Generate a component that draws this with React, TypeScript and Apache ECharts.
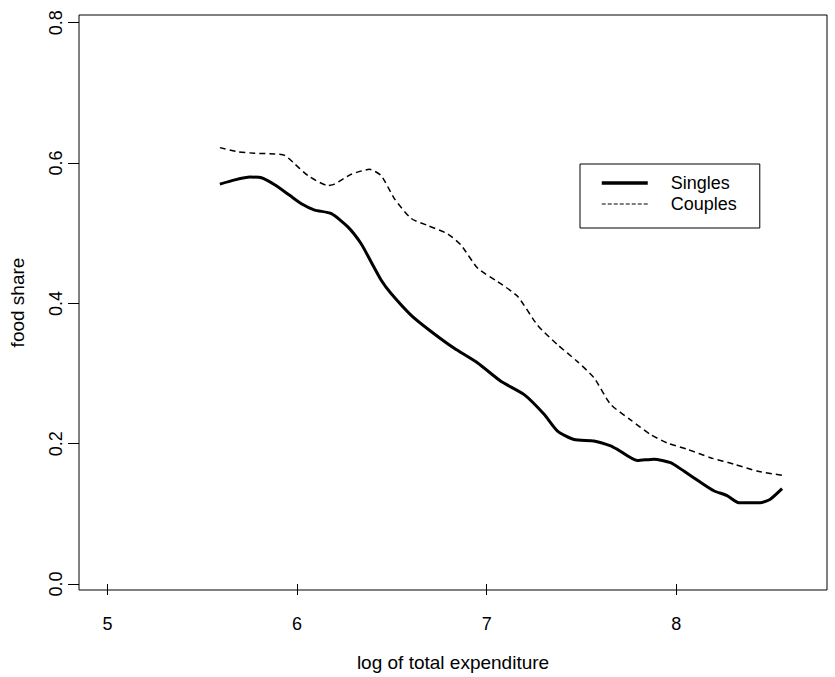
import React, { useEffect, useRef } from "react";
import * as echarts from "echarts";

const singlesX = [5.593, 5.672, 5.751, 5.812, 5.882, 5.961, 6.023, 6.093, 6.181, 6.268, 6.338, 6.391, 6.444, 6.496, 6.602, 6.707, 6.829, 6.953, 7.075, 7.198, 7.303, 7.374, 7.461, 7.566, 7.654, 7.689, 7.795, 7.882, 7.970, 8.040, 8.128, 8.198, 8.268, 8.329, 8.444, 8.496, 8.558];
const singlesY = [0.570, 0.576, 0.580, 0.579, 0.569, 0.554, 0.542, 0.533, 0.528, 0.509, 0.485, 0.459, 0.433, 0.414, 0.383, 0.360, 0.336, 0.315, 0.289, 0.270, 0.242, 0.218, 0.206, 0.204, 0.197, 0.192, 0.176, 0.178, 0.173, 0.161, 0.145, 0.133, 0.126, 0.116, 0.116, 0.121, 0.136];

const couplesX = [5.593, 5.689, 5.777, 5.882, 5.935, 5.987, 6.058, 6.163, 6.198, 6.286, 6.382, 6.444, 6.514, 6.602, 6.689, 6.795, 6.865, 6.953, 7.058, 7.163, 7.268, 7.374, 7.479, 7.566, 7.654, 7.759, 7.865, 7.953, 8.058, 8.181, 8.303, 8.426, 8.558];
const couplesY = [0.622, 0.616, 0.614, 0.613, 0.611, 0.599, 0.582, 0.568, 0.570, 0.584, 0.591, 0.582, 0.549, 0.521, 0.511, 0.499, 0.483, 0.450, 0.431, 0.410, 0.369, 0.341, 0.317, 0.294, 0.256, 0.234, 0.213, 0.201, 0.192, 0.180, 0.171, 0.161, 0.155];

const xTicks = [5, 6, 7, 8];
const yTicks = [0, 0.2, 0.4, 0.6, 0.8];
const seriesNames = ["Singles", "Couples"];
const xTitle = "log of total expenditure";
const yTitle = "food share";

const FONT = "'Liberation Sans', Arial, Helvetica, sans-serif";

export default function App() {
  const ref = useRef<HTMLDivElement>(null);
  useEffect(() => {
    if (!ref.current) return;
    const chart = echarts.init(ref.current, null, { renderer: "svg" });
    const zip = (xs: number[], ys: number[]) => xs.map((x, i) => [x, ys[i]]);
    chart.setOption({
      animation: false,
      backgroundColor: "#ffffff",
      textStyle: { fontFamily: FONT },
      grid: {
        left: 77,
        right: 8,
        top: 15,
        bottom: 84,
        show: true,
        borderColor: "#000",
        borderWidth: 1,
        containLabel: false,
      },
      xAxis: {
        type: "value",
        min: 4.85,
        max: 8.795,
        axisLine: { show: false },
        splitLine: { show: false },
        axisTick: { show: true, length: 11, customValues: xTicks, lineStyle: { color: "#000", width: 1 } },
        axisLabel: {
          customValues: xTicks,
          margin: 25,
          color: "#000",
          fontSize: 18,
          fontFamily: FONT,
          formatter: (v: number) => String(v),
        },
        name: xTitle,
        nameLocation: "middle",
        nameGap: 63,
        nameTextStyle: { color: "#000", fontSize: 19, fontFamily: FONT },
      },
      yAxis: {
        type: "value",
        min: -0.0085,
        max: 0.811,
        axisLine: { show: false },
        splitLine: { show: false },
        axisTick: { show: true, length: 11, customValues: yTicks, lineStyle: { color: "#000", width: 1 } },
        axisLabel: {
          customValues: yTicks,
          rotate: 90,
          margin: 14,
          color: "#000",
          fontSize: 18,
          fontFamily: FONT,
          formatter: (v: number) => v.toFixed(1),
        },
        name: yTitle,
        nameLocation: "middle",
        nameGap: 52,
        nameTextStyle: { color: "#000", fontSize: 19, fontFamily: FONT },
      },
      legend: {
        data: [
          { name: seriesNames[0], lineStyle: { width: 3.5, type: "solid" } },
          { name: seriesNames[1], lineStyle: { width: 1, type: [4, 2] } },
        ],
        orient: "vertical",
        left: 580,
        top: 164,
        padding: [10, 23, 15, 20],
        borderColor: "#000",
        borderWidth: 1,
        itemWidth: 46,
        itemHeight: 14,
        itemGap: 3,
        itemStyle: { opacity: 0 },
        textStyle: { color: "#000", fontSize: 18, fontFamily: FONT, padding: [0, 0, 0, 18] },
      },
      series: [
        {
          name: seriesNames[0],
          type: "line",
          data: zip(singlesX, singlesY),
          showSymbol: false,
          symbol: "none",
          smooth: 0.2,
          lineStyle: { color: "#000", width: 3 },
          itemStyle: { color: "#000" },
        },
        {
          name: seriesNames[1],
          type: "line",
          data: zip(couplesX, couplesY),
          showSymbol: false,
          symbol: "none",
          smooth: 0.2,
          lineStyle: { color: "#000", width: 1.5, type: [6, 4] },
          itemStyle: { color: "#000" },
        },
      ],
    });
    return () => chart.dispose();
  }, []);
  return (
    <div
      ref={ref}
      style={{ position: "fixed", left: 0, top: 0, width: 835, height: 677, background: "#fff" }}
    />
  );
}
